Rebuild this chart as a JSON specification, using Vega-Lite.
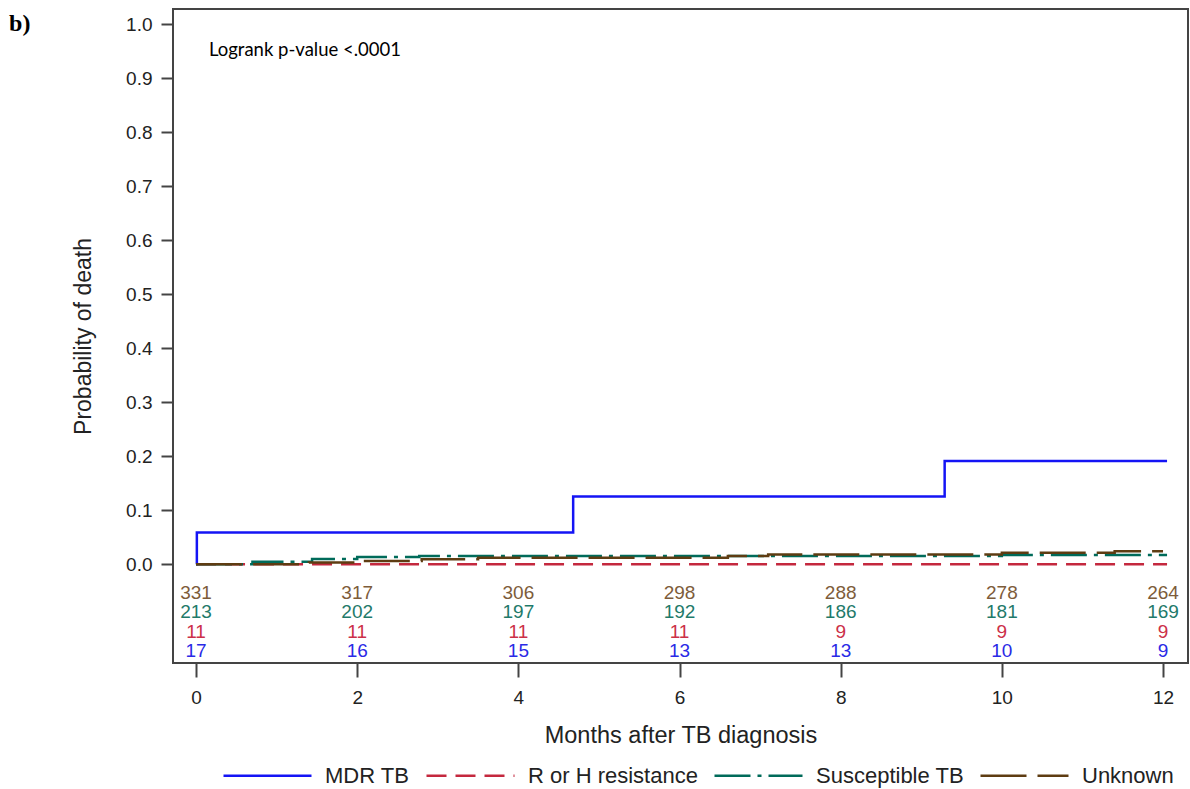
{
  "$schema": "https://vega.github.io/schema/vega-lite/v6.json",
  "width": 1015,
  "height": 654,
  "autosize": {"type": "none"},
  "padding": {"left": 173, "top": 9, "right": 2, "bottom": 126},
  "background": "white",
  "config": {
    "font": "Liberation Sans",
    "view": {"stroke": "#444444", "strokeWidth": 2},
    "legend": {
      "orient": "none",
      "legendX": 49,
      "legendY": 721,
      "direction": "horizontal",
      "symbolType": "stroke",
      "symbolSize": 7744,
      "symbolStrokeWidth": 2.5,
      "labelFontSize": 22,
      "labelOffset": 12,
      "labelColor": "#222222",
      "labelLimit": 0,
      "columnPadding": 11,
      "padding": 0
    }
  },
  "datasets": {
    "curves": [
      {"group": "MDR TB", "t": 0, "p": 0},
      {"group": "MDR TB", "t": 0.01, "p": 0.0588},
      {"group": "MDR TB", "t": 4.68, "p": 0.1255},
      {"group": "MDR TB", "t": 9.29, "p": 0.191},
      {"group": "MDR TB", "t": 12.05, "p": 0.191},
      {"group": "R or H resistance", "t": 0, "p": 0},
      {"group": "R or H resistance", "t": 12.05, "p": 0},
      {"group": "Susceptible TB", "t": 0, "p": 0},
      {"group": "Susceptible TB", "t": 0.7, "p": 0.0047},
      {"group": "Susceptible TB", "t": 1.44, "p": 0.0094},
      {"group": "Susceptible TB", "t": 2.0, "p": 0.0131},
      {"group": "Susceptible TB", "t": 2.77, "p": 0.015},
      {"group": "Susceptible TB", "t": 10.0, "p": 0.017},
      {"group": "Susceptible TB", "t": 12.05, "p": 0.017},
      {"group": "Unknown", "t": 0, "p": 0},
      {"group": "Unknown", "t": 1.4, "p": 0.003},
      {"group": "Unknown", "t": 2.0, "p": 0.006},
      {"group": "Unknown", "t": 2.8, "p": 0.009},
      {"group": "Unknown", "t": 3.5, "p": 0.012},
      {"group": "Unknown", "t": 6.6, "p": 0.015},
      {"group": "Unknown", "t": 7.1, "p": 0.018},
      {"group": "Unknown", "t": 10.0, "p": 0.021},
      {"group": "Unknown", "t": 11.4, "p": 0.024},
      {"group": "Unknown", "t": 12.0, "p": 0.024}
    ],
    "atrisk": [
      {"group": "Unknown", "t": 0, "n": 331},
      {"group": "Unknown", "t": 2, "n": 317},
      {"group": "Unknown", "t": 4, "n": 306},
      {"group": "Unknown", "t": 6, "n": 298},
      {"group": "Unknown", "t": 8, "n": 288},
      {"group": "Unknown", "t": 10, "n": 278},
      {"group": "Unknown", "t": 12, "n": 264},
      {"group": "Susceptible TB", "t": 0, "n": 213},
      {"group": "Susceptible TB", "t": 2, "n": 202},
      {"group": "Susceptible TB", "t": 4, "n": 197},
      {"group": "Susceptible TB", "t": 6, "n": 192},
      {"group": "Susceptible TB", "t": 8, "n": 186},
      {"group": "Susceptible TB", "t": 10, "n": 181},
      {"group": "Susceptible TB", "t": 12, "n": 169},
      {"group": "R or H resistance", "t": 0, "n": 11},
      {"group": "R or H resistance", "t": 2, "n": 11},
      {"group": "R or H resistance", "t": 4, "n": 11},
      {"group": "R or H resistance", "t": 6, "n": 11},
      {"group": "R or H resistance", "t": 8, "n": 9},
      {"group": "R or H resistance", "t": 10, "n": 9},
      {"group": "R or H resistance", "t": 12, "n": 9},
      {"group": "MDR TB", "t": 0, "n": 17},
      {"group": "MDR TB", "t": 2, "n": 16},
      {"group": "MDR TB", "t": 4, "n": 15},
      {"group": "MDR TB", "t": 6, "n": 13},
      {"group": "MDR TB", "t": 8, "n": 13},
      {"group": "MDR TB", "t": 10, "n": 10},
      {"group": "MDR TB", "t": 12, "n": 9}
    ],
    "notes": [
      {"t": 0.16, "p": 0.952, "label": "Logrank p-value <.0001"}
    ],
    "panel": [
      {"t": -2.32, "p": 1.0, "label": "b)"}
    ]
  },
  "layer": [
    {
      "data": {"name": "curves"},
      "mark": {"type": "line", "interpolate": "step-after", "strokeWidth": 2.5, "clip": true},
      "encoding": {
        "x": {
          "field": "t",
          "type": "quantitative",
          "scale": {"domain": [-0.286, 12.31], "nice": false, "zero": false},
          "axis": {
            "values": [0, 2, 4, 6, 8, 10, 12],
            "format": "d",
            "grid": false,
            "domain": false,
            "tickColor": "#444444",
            "tickWidth": 2,
            "tickSize": 14,
            "labelFontSize": 19,
            "labelColor": "#222222",
            "labelPadding": 11,
            "title": "Months after TB diagnosis",
            "titleFontSize": 23.5,
            "titleFontWeight": "normal",
            "titleColor": "#222222",
            "titlePadding": 16
          }
        },
        "y": {
          "field": "p",
          "type": "quantitative",
          "scale": {"domain": [-0.183, 1.028], "nice": false, "zero": false},
          "axis": {
            "values": [0, 0.1, 0.2, 0.3, 0.4, 0.5, 0.6, 0.7, 0.8, 0.9, 1.0],
            "format": ".1f",
            "grid": false,
            "domain": false,
            "tickColor": "#444444",
            "tickWidth": 2,
            "tickSize": 12,
            "labelFontSize": 19,
            "labelColor": "#222222",
            "labelPadding": 9,
            "title": "Probability of death",
            "titleFontSize": 23,
            "titleFontWeight": "normal",
            "titleColor": "#222222",
            "titlePadding": 30
          }
        },
        "color": {
          "field": "group",
          "type": "nominal",
          "scale": {
            "domain": ["MDR TB", "R or H resistance", "Susceptible TB", "Unknown"],
            "range": ["#1414f5", "#c4283e", "#006b5a", "#5e3c12"]
          },
          "legend": {"title": null}
        },
        "strokeDash": {
          "field": "group",
          "type": "nominal",
          "scale": {
            "domain": ["MDR TB", "R or H resistance", "Susceptible TB", "Unknown"],
            "range": [[1, 0], [20, 9], [36, 7, 4, 7], [46, 11]]
          },
          "legend": {"title": null}
        }
      }
    },
    {
      "data": {"name": "atrisk"},
      "mark": {"type": "text", "fontSize": 19, "baseline": "middle", "align": "center"},
      "encoding": {
        "x": {"field": "t", "type": "quantitative"},
        "y": {
          "field": "group",
          "type": "nominal",
          "scale": {
            "type": "point",
            "domain": ["Unknown", "Susceptible TB", "R or H resistance", "MDR TB"],
            "range": [584, 642],
            "padding": 0
          },
          "axis": null
        },
        "text": {"field": "n", "type": "quantitative"},
        "fill": {
          "field": "group",
          "type": "nominal",
          "scale": {
            "domain": ["MDR TB", "R or H resistance", "Susceptible TB", "Unknown"],
            "range": ["#2a2ae6", "#cc3048", "#1f7a6a", "#7d5c3a"]
          },
          "legend": null
        }
      }
    },
    {
      "data": {"name": "notes"},
      "mark": {"type": "text", "align": "left", "baseline": "middle", "font": "Lato", "fontSize": 18.5, "color": "black"},
      "encoding": {
        "x": {"field": "t", "type": "quantitative"},
        "y": {
          "field": "p",
          "type": "quantitative",
          "scale": {"domain": [-0.183, 1.028], "nice": false, "zero": false},
          "axis": null
        },
        "text": {"field": "label"}
      }
    },
    {
      "data": {"name": "panel"},
      "mark": {"type": "text", "align": "left", "baseline": "middle", "font": "Liberation Serif", "fontSize": 24, "fontWeight": "bold", "color": "black", "clip": false},
      "encoding": {
        "x": {"field": "t", "type": "quantitative"},
        "y": {
          "field": "p",
          "type": "quantitative",
          "scale": {"domain": [-0.183, 1.028], "nice": false, "zero": false},
          "axis": null
        },
        "text": {"field": "label"}
      }
    }
  ],
  "resolve": {"scale": {"y": "independent"}}
}
